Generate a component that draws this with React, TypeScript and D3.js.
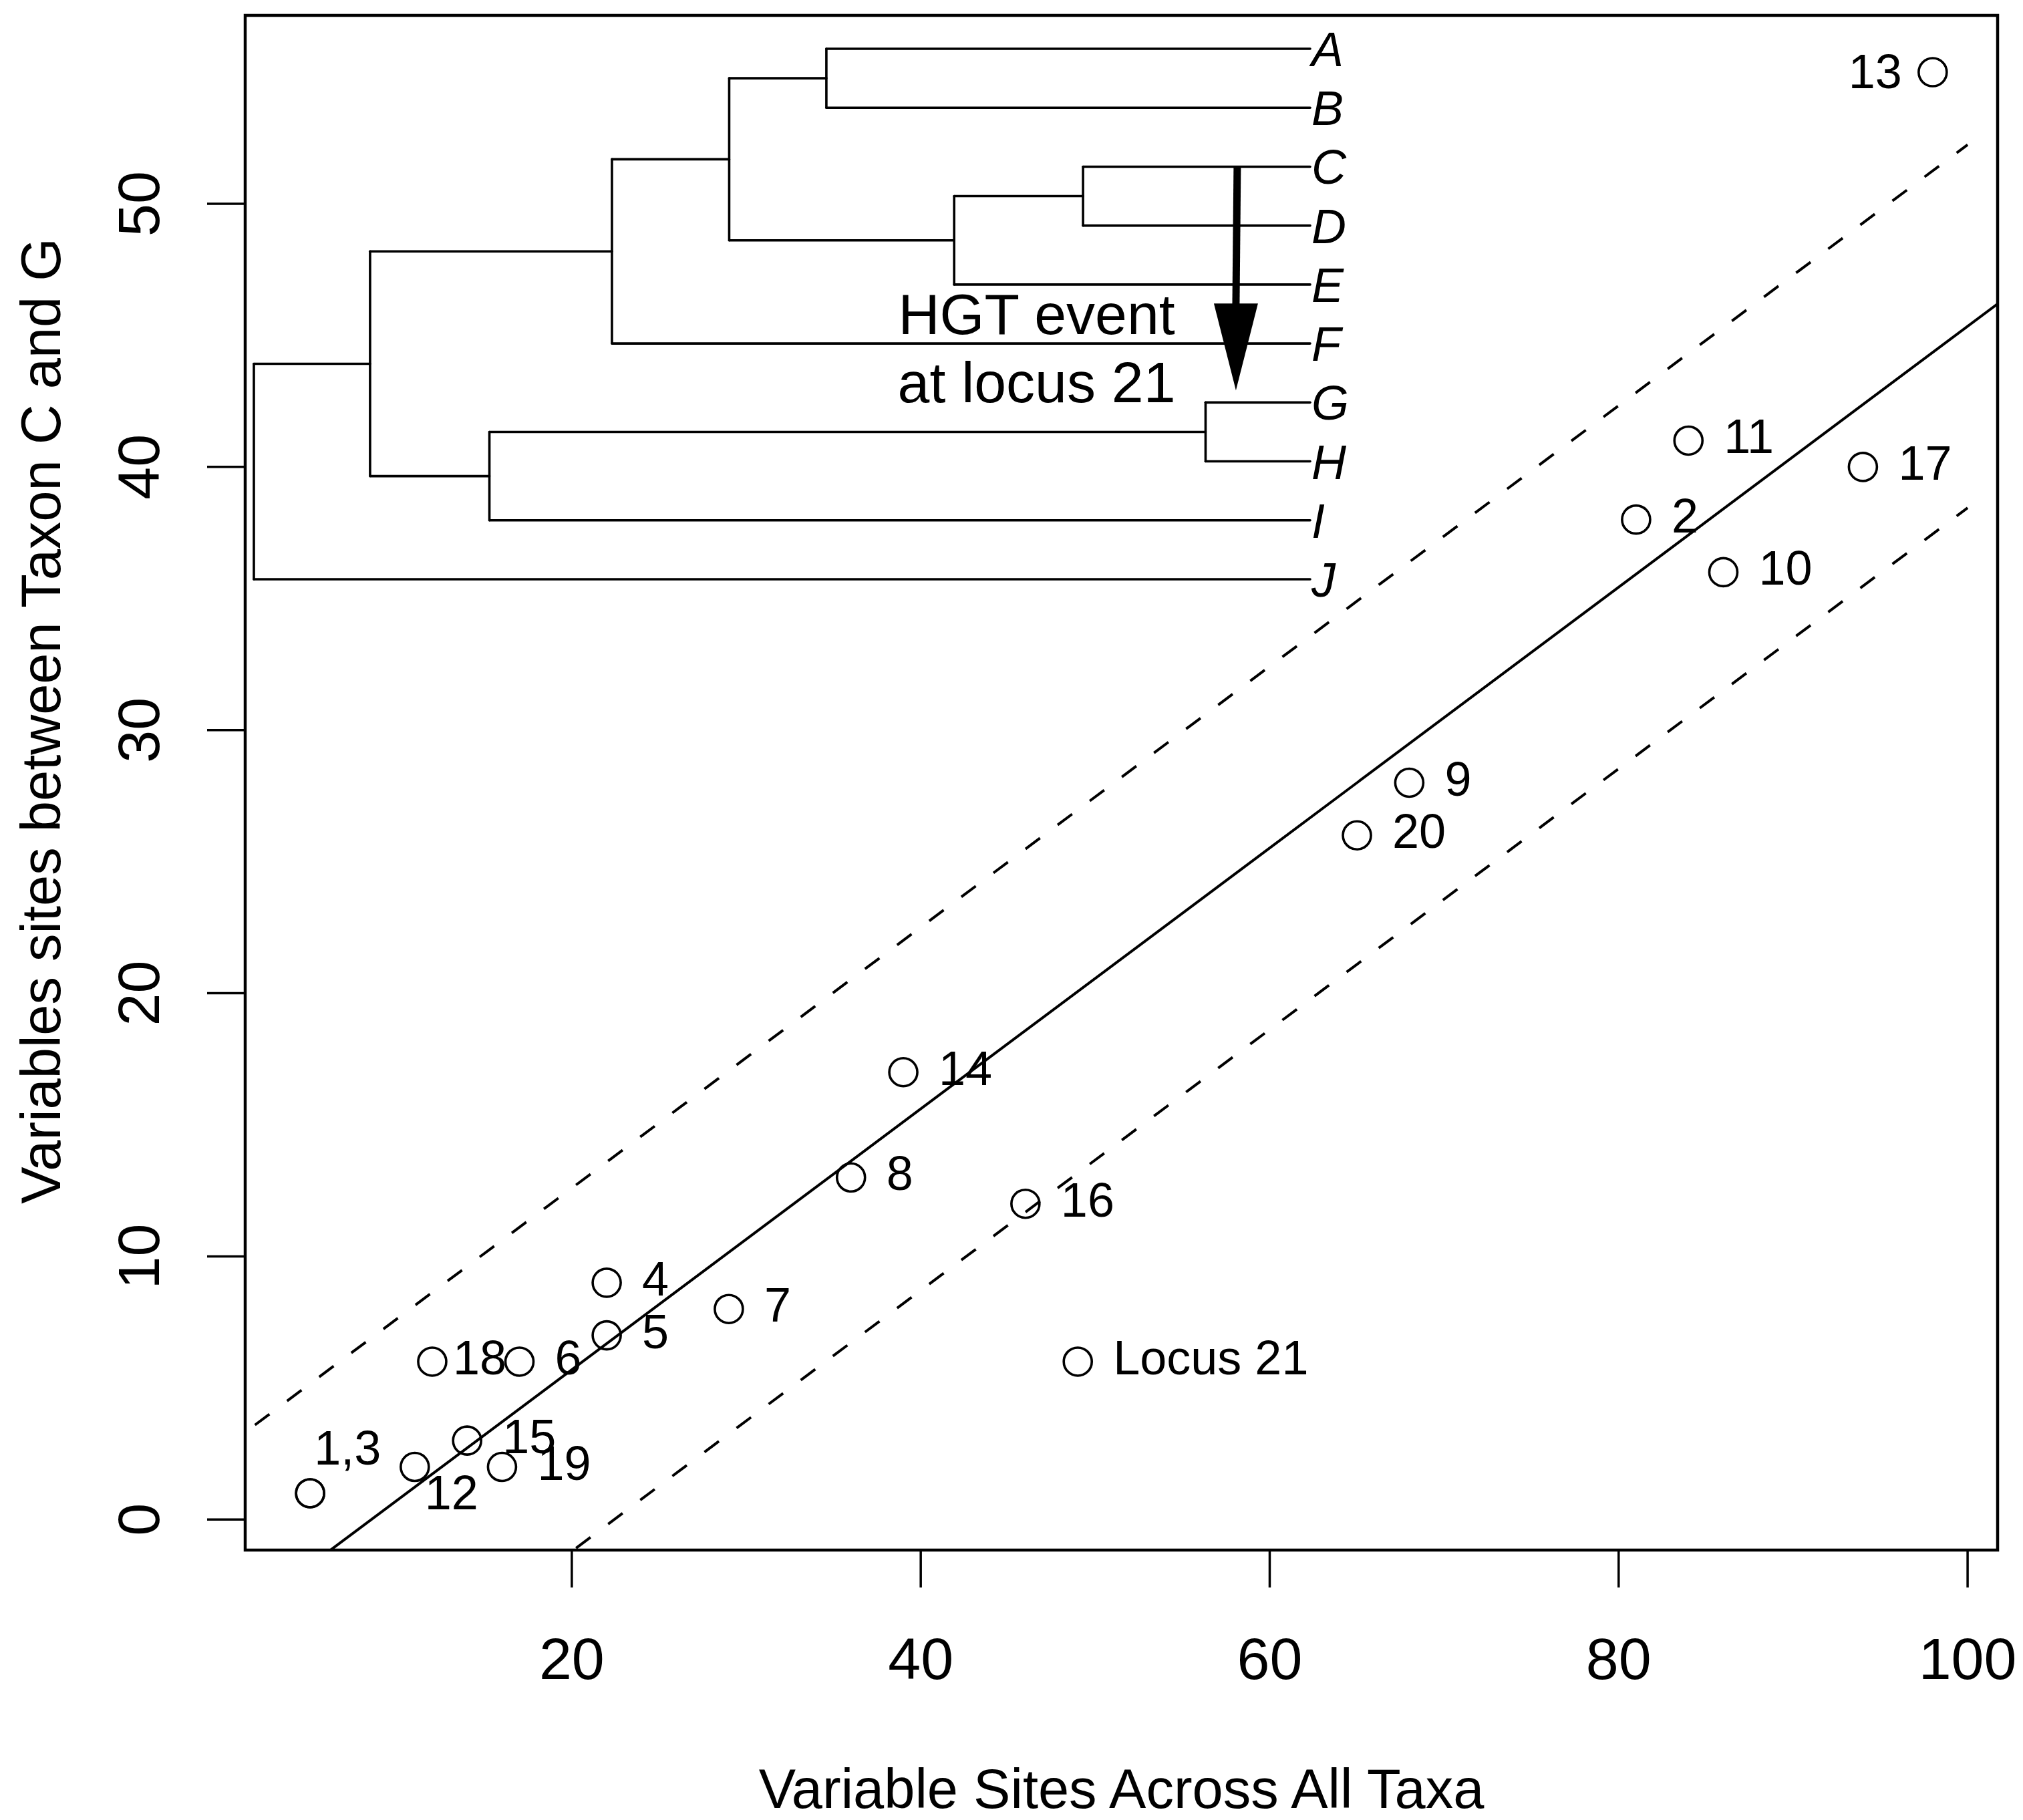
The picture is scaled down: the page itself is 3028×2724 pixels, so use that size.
import * as d3 from 'd3'

const W = 3028
const H = 2724
const PLOT = { left: 367, right: 2990, top: 23, bottom: 2320 }
const FONT = '"Liberation Sans", Arial, Helvetica, sans-serif'

// loci 1..21: variable sites across all taxa vs. between taxon C and G
const LOCI = ['1', '2', '3', '4', '5', '6', '7', '8', '9', '10', '11', '12', '13', '14', '15', '16', '17', '18', '19', '20', '21']
const SITES_ALL = [5, 81, 5, 22, 22, 17, 29, 36, 68, 86, 84, 11, 98, 39, 14, 46, 94, 12, 16, 65, 49]
const SITES_CG = [1, 38, 1, 9, 7, 6, 8, 13, 28, 36, 41, 2, 55, 17, 3, 12, 40, 6, 2, 26, 6]
const POINT_LABELS = ['1,3', '2', '', '4', '5', '6', '7', '8', '9', '10', '11', '12', '13', '14', '15', '16', '17', '18', '19', '20', 'Locus 21']

const X_TICKS = [20, 40, 60, 80, 100]
const Y_TICKS = [0, 10, 20, 30, 40, 50]

// dashed band around the fit, and the x range it was drawn over
const BAND_HALF_WIDTH = 6.9
const BAND_RANGE = [0, 100]

// inset tree: node ids, parents and heights (root = 1, tips = 0)
const NODE_IDS = ['root', 'n1', 'n2', 'n3', 'n4', 'n5', 'n6', 'n7', 'n8', 'A', 'B', 'C', 'D', 'E', 'F', 'G', 'H', 'I', 'J']
const NODE_PARENTS = ['', 'root', 'n1', 'n2', 'n3', 'n3', 'n1', 'n6', 'n5', 'n4', 'n4', 'n8', 'n8', 'n5', 'n2', 'n7', 'n7', 'n6', 'root']
const NODE_HEIGHTS = [1, 0.89, 0.661, 0.55, 0.458, 0.337, 0.777, 0.099, 0.215, 0, 0, 0, 0, 0, 0, 0, 0, 0, 0]

const HGT_FROM = 'C'
const HGT_TO = 'G'
const HGT_HEIGHT = 0.069
const HGT_TEXT = ['HGT event', 'at locus 21']
const HGT_TEXT_HEIGHT = 0.259

// label placement tweaks (px) where the figure moved them off the default
const LABEL_NUDGE: Record<string, { dx: number; dy: number; anchor: string }> = {
  '1,3': { dx: 6, dy: -43, anchor: 'start' },
  '12': { dx: 15, dy: 63, anchor: 'start' },
  '18': { dx: 31, dy: 19, anchor: 'start' },
  '13': { dx: -46, dy: 24, anchor: 'end' },
}
const LABEL_DEFAULT = { dx: 53, dy: 19, anchor: 'start' }

function padded(vals: number[]) {
  const [lo, hi] = d3.extent(vals) as [number, number]
  const r = hi - lo
  return [lo - 0.04 * r, hi + 0.04 * r]
}

export default function App() {
  const x = d3.scaleLinear().domain(padded(SITES_ALL)).range([PLOT.left, PLOT.right])
  const y = d3.scaleLinear().domain(padded(SITES_CG)).range([PLOT.bottom, PLOT.top])

  // least squares fit over all loci
  const mx = d3.mean(SITES_ALL) as number
  const my = d3.mean(SITES_CG) as number
  const sxy = d3.sum(SITES_ALL, (v, i) => (v - mx) * (SITES_CG[i] - my))
  const sxx = d3.sum(SITES_ALL, v => (v - mx) ** 2)
  const slope = sxy / sxx
  const intercept = my - slope * mx
  const fit = (v: number) => intercept + slope * v

  const line = d3.line<[number, number]>().x(d => x(d[0])).y(d => y(d[1]))
  const xd = x.domain()
  const fitPath = line([[xd[0], fit(xd[0])], [xd[1], fit(xd[1])]])
  const upperPath = line(BAND_RANGE.map(v => [v, fit(v) + BAND_HALF_WIDTH] as [number, number]))
  const lowerPath = line(BAND_RANGE.map(v => [v, fit(v) - BAND_HALF_WIDTH] as [number, number]))

  // tree layout
  const table = NODE_IDS.map((id, i) => ({ id, parent: NODE_PARENTS[i], h: NODE_HEIGHTS[i] }))
  const root = d3.stratify<any>().id(d => d.id).parentId(d => d.parent || null)(table)
  const leaves = root.leaves()
  const yIndex = new Map<string, number>()
  leaves.forEach((l, i) => yIndex.set(l.id as string, i))
  root.eachAfter((n: any) => {
    if (!n.children) n.ti = yIndex.get(n.id)
    else n.ti = d3.mean(n.children, (c: any) => c.ti)
  })
  const tx = d3.scaleLinear().domain([1, 0]).range([380, 1961])
  const ty = d3.scaleLinear().domain([0, leaves.length - 1]).range([73, 867])
  const nodes: any[] = root.descendants()

  const arrowX = tx(HGT_HEIGHT)
  const arrowTop = ty(yIndex.get(HGT_FROM) as number)
  const arrowTip = ty(yIndex.get(HGT_TO) as number) - 18
  const headLen = 130
  const headHalf = 33

  return (
    <>
      <style>{'body{margin:0}'}</style>
      <svg width={W} height={H} style={{ display: 'block', background: '#fff', fontFamily: FONT }}>
        <defs>
          <clipPath id="plotclip">
            <rect x={PLOT.left} y={PLOT.top} width={PLOT.right - PLOT.left} height={PLOT.bottom - PLOT.top} />
          </clipPath>
        </defs>

        {/* fit and band */}
        <g clipPath="url(#plotclip)" fill="none" stroke="#000" strokeWidth={4}>
          <path d={fitPath ?? ''} />
          <path d={upperPath ?? ''} strokeDasharray="27 33" />
          <path d={lowerPath ?? ''} strokeDasharray="27 33" />
        </g>

        {/* tree inset */}
        <g stroke="#000" strokeWidth={3.6} strokeLinecap="round" fill="none">
          {nodes.filter(n => n.parent).map(n => (
            <line key={'h' + n.id} x1={tx(n.parent.data.h)} x2={tx(n.data.h)} y1={ty(n.ti)} y2={ty(n.ti)} />
          ))}
          {nodes.filter(n => n.children).map(n => (
            <line key={'v' + n.id} x1={tx(n.data.h)} x2={tx(n.data.h)}
              y1={ty(n.children[0].ti)} y2={ty(n.children[n.children.length - 1].ti)} />
          ))}
        </g>
        {leaves.map((l: any) => (
          <text key={'t' + l.id} x={tx(0) + 2} y={ty(l.ti) + 26} fontSize={72} fontStyle="italic">{l.id}</text>
        ))}

        {/* HGT arrow */}
        <line x1={arrowX} x2={arrowX - 2} y1={arrowTop} y2={arrowTip - headLen + 4} stroke="#000" strokeWidth={11} />
        <polygon
          points={`${arrowX - 2 - headHalf},${arrowTip - headLen} ${arrowX - 2 + headHalf},${arrowTip - headLen} ${arrowX - 2},${arrowTip}`}
          fill="#000" />
        <text x={tx(HGT_TEXT_HEIGHT)} y={ty(yIndex.get(HGT_TO) as number)} fontSize={86} textAnchor="middle">
          <tspan x={tx(HGT_TEXT_HEIGHT)} dy={-102}>{HGT_TEXT[0]}</tspan>
          <tspan x={tx(HGT_TEXT_HEIGHT)} dy={102}>{HGT_TEXT[1]}</tspan>
        </text>

        {/* points */}
        <g fill="none" stroke="#000" strokeWidth={3.6}>
          {LOCI.map((id, i) => (
            <circle key={'c' + id} cx={x(SITES_ALL[i])} cy={y(SITES_CG[i])} r={21} />
          ))}
        </g>
        {LOCI.map((id, i) => {
          const lab = POINT_LABELS[i]
          if (!lab) return null
          const p = LABEL_NUDGE[lab] ?? LABEL_DEFAULT
          return (
            <text key={'l' + id} x={x(SITES_ALL[i]) + p.dx} y={y(SITES_CG[i]) + p.dy}
              fontSize={72} textAnchor={p.anchor}>{lab}</text>
          )
        })}

        {/* frame */}
        <rect x={PLOT.left} y={PLOT.top} width={PLOT.right - PLOT.left} height={PLOT.bottom - PLOT.top}
          fill="none" stroke="#000" strokeWidth={4.5} />

        {/* ticks */}
        <g stroke="#000" strokeWidth={3.5}>
          {X_TICKS.map(t => <line key={'xt' + t} x1={x(t)} x2={x(t)} y1={PLOT.bottom} y2={PLOT.bottom + 56} />)}
          {Y_TICKS.map(t => <line key={'yt' + t} x1={PLOT.left - 57} x2={PLOT.left} y1={y(t)} y2={y(t)} />)}
        </g>
        {X_TICKS.map(t => (
          <text key={'xl' + t} x={x(t)} y={2513} fontSize={88} textAnchor="middle">{t}</text>
        ))}
        {Y_TICKS.map(t => (
          <text key={'yl' + t} transform={`translate(238,${y(t)}) rotate(-90)`} fontSize={88} textAnchor="middle">{t}</text>
        ))}

        <text x={(PLOT.left + PLOT.right) / 2} y={2706} fontSize={83} textAnchor="middle">
          Variable Sites Across All Taxa
        </text>
        <text transform="translate(90,1079) rotate(-90)" fontSize={83} textAnchor="middle">
          Variables sites between Taxon C and G
        </text>
      </svg>
    </>
  )
}
